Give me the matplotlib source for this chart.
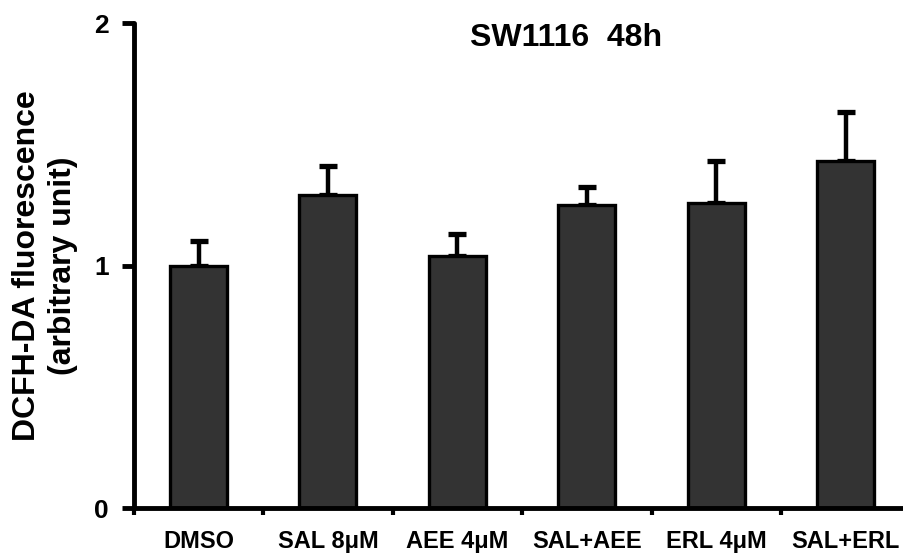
import matplotlib.pyplot as plt
import numpy as np

groups = ["DMSO", "SAL 8\u03bcM", "AEE 4\u03bcM", "SAL+AEE", "ERL 4\u03bcM", "SAL+ERL"]
means = [1.00, 1.29, 1.04, 1.25, 1.26, 1.43]
errs = [0.10, 0.12, 0.09, 0.075, 0.17, 0.205]

plt.rcParams['font.family'] = ['Liberation Sans', 'DejaVu Sans']
plt.rcParams['font.weight'] = 'bold'

fig = plt.figure(figsize=(9.04, 5.56), dpi=100)
ax = fig.add_axes([0.148, 0.0863, 0.852, 0.872])

x = np.arange(len(groups))
ax.bar(x, means, width=0.44, color="#333333", edgecolor="black", linewidth=2.4, zorder=2)
eb = ax.errorbar(x, means, yerr=[np.zeros(len(errs)), errs], fmt="none", ecolor="black",
                 elinewidth=3.2, capsize=6.5, capthick=3.8, zorder=1)
for cap in eb[1]:
    cap.set_solid_capstyle("round")

ax.set_xlim(-0.5, 5.45)
ax.set_ylim(0, 2)
ax.set_yticks([0, 1, 2])
ax.set_yticklabels(["0", "1", "2"], fontsize=19, fontweight="bold")
ax.set_xticks(x)
ax.set_xticklabels(groups, fontsize=17, fontweight="bold")
ax.set_xticks(np.arange(-0.5, 5.0, 1.0), minor=True)
ax.tick_params(axis="x", which="major", length=0, pad=16)
ax.tick_params(axis="x", which="minor", length=5, width=3, direction="out")
ax.tick_params(axis="y", length=9, width=3.5, pad=9)

for side in ["top", "right"]:
    ax.spines[side].set_visible(False)
for side in ["left", "bottom"]:
    ax.spines[side].set_linewidth(3.5)
    ax.spines[side].set_capstyle("round")

ax.set_ylabel("DCFH-DA fluorescence\n(arbitrary unit)", fontsize=23, fontweight="bold",
              linespacing=1.25)
ax.yaxis.set_label_coords(-0.073, 0.5)
ax.text(2.84, 1.94, "SW1116  48h", fontsize=23, fontweight="bold", ha="center", va="center")

fig.savefig("out.png", dpi=100)
